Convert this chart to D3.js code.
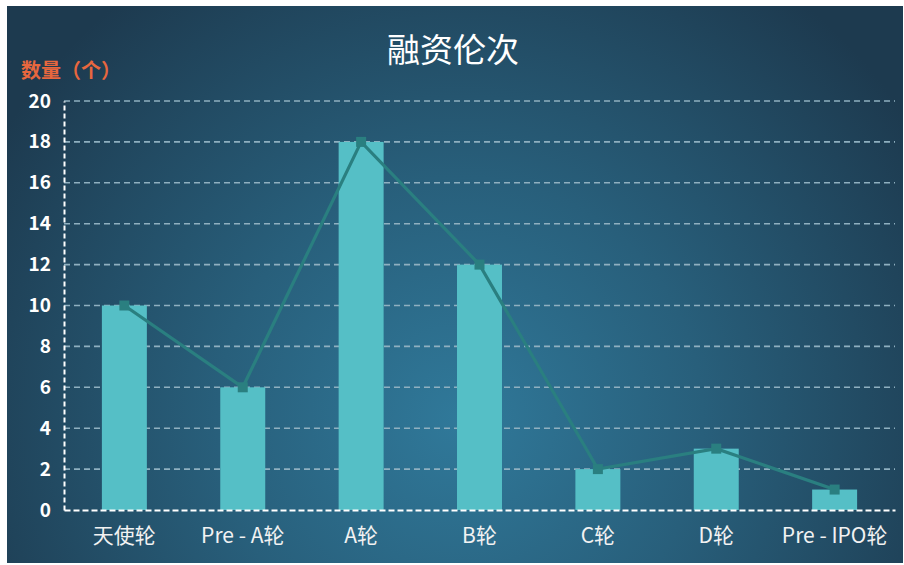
<!DOCTYPE html>
<html><head><meta charset="utf-8">
<script src="https://cdn.jsdelivr.net/npm/d3@7"></script>
<style>
html,body{margin:0;padding:0;background:#fff;}
svg{display:block;}
text{font-family:"Noto Sans CJK SC","Noto Sans",sans-serif;}
</style></head>
<body>
<svg id="chart" width="904" height="565"></svg>
<script>
// Funding rounds and number of deals per round
const categories = ["天使轮", "Pre - A轮", "A轮", "B轮", "C轮", "D轮", "Pre - IPO轮"];
const counts = [10, 6, 18, 12, 2, 3, 1];
const yTicks = [0, 2, 4, 6, 8, 10, 12, 14, 16, 18, 20];
const title = "融资伦次";
const yLabel = "数量（个）";

const svg = d3.select("#chart");
const W = 904, H = 565;

// background panel with radial glow
const defs = svg.append("defs");
const grad = defs.append("radialGradient").attr("id", "bg")
  .attr("gradientUnits", "userSpaceOnUse")
  .attr("cx", 460).attr("cy", 420).attr("r", 540);
grad.append("stop").attr("offset", "0%").attr("stop-color", "#30799a");
grad.append("stop").attr("offset", "45%").attr("stop-color", "#285f7b");
grad.append("stop").attr("offset", "100%").attr("stop-color", "#1d3a4f");
svg.append("rect").attr("x", 7).attr("y", 6).attr("width", W - 8).attr("height", H - 8)
  .attr("fill", "url(#bg)");

const m = {left: 64, right: 9, top: 101, bottom: 55};
const x = d3.scaleBand().domain(categories).range([m.left, W - m.right]).paddingInner(0.62).paddingOuter(0.32);
const y = d3.scaleLinear().domain([0, 20]).range([H - m.bottom, m.top]);

// horizontal dashed gridlines
svg.append("g").selectAll("line").data(yTicks.filter(d => d > 0)).join("line")
  .attr("x1", m.left).attr("x2", W - m.right)
  .attr("y1", d => y(d)).attr("y2", d => y(d))
  .attr("stroke", "#8fb0c0").attr("stroke-width", 1.6).attr("stroke-dasharray", "6,4");

// y axis
const yAxis = svg.append("g").attr("transform", `translate(${m.left},0)`)
  .call(d3.axisLeft(y).tickValues(yTicks).tickSize(0).tickPadding(13));
yAxis.select(".domain").attr("stroke", "#ffffff").attr("stroke-width", 2).attr("stroke-dasharray", "5,3");
yAxis.selectAll("text").attr("fill", "#ffffff").attr("font-size", 19).attr("font-weight", "bold")
  .attr("font-family", "'Open Sans','Noto Sans',sans-serif");

// bars
svg.append("g").selectAll("rect").data(counts).join("rect")
  .attr("x", (d, i) => x(categories[i]))
  .attr("y", d => y(d))
  .attr("width", x.bandwidth())
  .attr("height", d => y(0) - y(d))
  .attr("fill", "#55bfc6");

// x axis
const xAxis = svg.append("g").attr("transform", `translate(0,${y(0)})`)
  .call(d3.axisBottom(x).tickSize(0).tickPadding(18));
xAxis.select(".domain").attr("stroke", "#ffffff").attr("stroke-width", 2.2).attr("stroke-dasharray", "6,3");
xAxis.selectAll("text").attr("fill", "#f2f2f2").attr("font-size", 21)
  .attr("font-family", "'Noto Sans CJK SC',sans-serif");

// trend line with square markers
const cx = (d, i) => x(categories[i]) + x.bandwidth() / 2;
svg.append("path").datum(counts)
  .attr("d", d3.line().x(cx).y(d => y(d)))
  .attr("fill", "none").attr("stroke", "#2a7f80").attr("stroke-width", 3.2);
svg.append("g").selectAll("rect").data(counts).join("rect")
  .attr("x", (d, i) => cx(d, i) - 5).attr("y", d => y(d) - 5)
  .attr("width", 10).attr("height", 10).attr("fill", "#2a7f80");

// title and axis label
svg.append("text").attr("x", 453).attr("y", 62).attr("text-anchor", "middle")
  .attr("fill", "#ffffff").attr("font-size", 33).text(title);
svg.append("text").attr("x", 21).attr("y", 78)
  .attr("fill", "#e8673e").attr("font-size", 20).attr("font-weight", "bold").text(yLabel);
</script>
</body></html>
